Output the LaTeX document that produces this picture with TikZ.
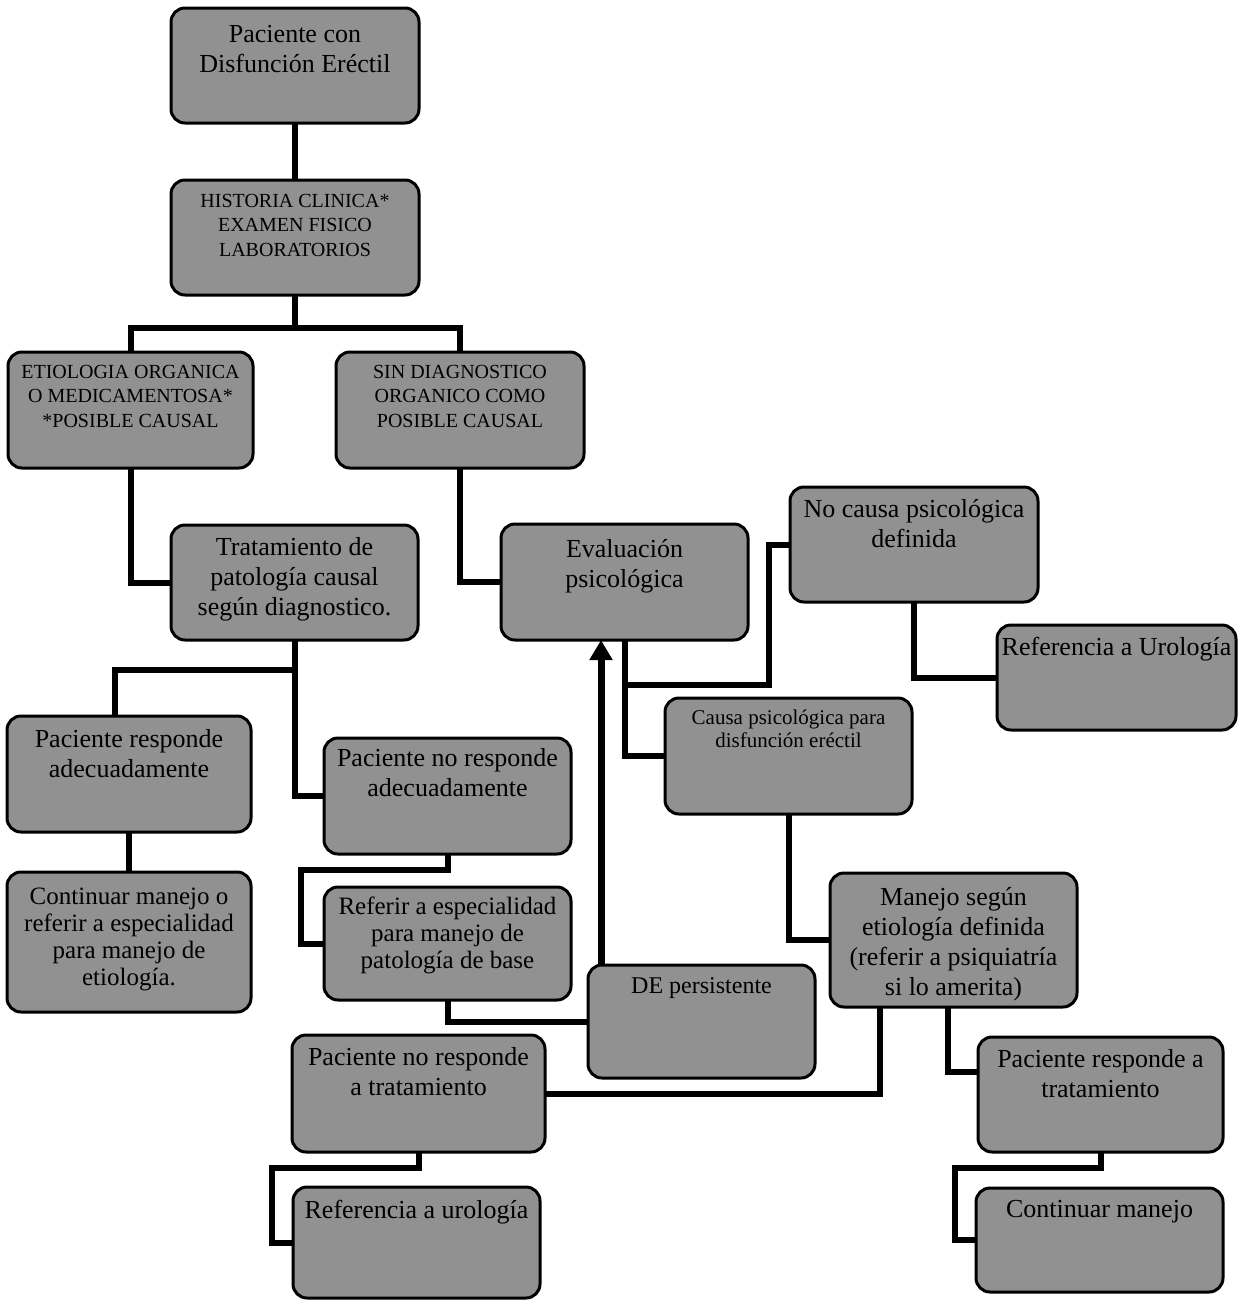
\documentclass[tikz,border=0pt]{standalone}
\usepackage{fontspec}
\setmainfont{Liberation Serif}
\usetikzlibrary{arrows.meta,backgrounds}
\definecolor{boxgray}{RGB}{145,145,145}
\newcommand\fzA{\fontsize{26}{30}\selectfont}
\newcommand\fzU{\fontsize{20}{24.5}\selectfont}
\newcommand\fzB{\fontsize{25}{27}\selectfont}
\newcommand\fzC{\fontsize{21}{23.5}\selectfont}
\newcommand\fzD{\fontsize{24}{28}\selectfont}
\tikzset{
  box/.style={draw=black, line width=3pt, rounded corners=14pt, fill=boxgray,
    inner sep=0pt, outer sep=0pt, anchor=north west},
  conn/.style={draw=black, line width=6pt},
  arr/.style={draw=black, line width=7pt, -{Triangle[length=20pt,width=22pt]}}
}
% name, x1, y1, x2, y2, font, first baseline, text
\newcommand\bx[8]{\node[box] (#1) at (#2,#3)
  {\parbox[t][\dimexpr#5pt-#3pt\relax][t]{\dimexpr#4pt-#2pt\relax}{#6\centering\rule{0pt}{#7pt}#8}};}
\begin{document}
\begin{tikzpicture}[x=1pt,y=-1pt]
\useasboundingbox (0,0) rectangle (1238,1302);
\bx{b1}{171}{8}{419}{123}{\fzA}{34}{Paciente con\\Disfunción Eréctil}
\bx{b2}{171}{180}{419}{295}{\fzU}{27}{HISTORIA CLINICA*\\EXAMEN FISICO\\LABORATORIOS}
\bx{b3}{8}{352}{253}{468}{\fzU}{26}{ETIOLOGIA ORGANICA\\O MEDICAMENTOSA*\\{}*POSIBLE CAUSAL}
\bx{b4}{336}{352}{584}{468}{\fzU}{26}{SIN DIAGNOSTICO\\ORGANICO COMO\\POSIBLE CAUSAL}
\bx{b5}{171}{525}{418}{640}{\fzA}{30}{Tratamiento de\\patología causal\\según diagnostico.}
\bx{b6}{501}{524}{748}{640}{\fzA}{33}{Evaluación\\psicológica}
\bx{b7}{7}{716}{251}{832}{\fzA}{31}{Paciente responde\\adecuadamente}
\bx{b8}{324}{738}{571}{854}{\fzA}{28}{Paciente no responde\\adecuadamente}
\bx{b9}{7}{872}{251}{1012}{\fzB}{32}{Continuar manejo o\\referir a especialidad\\para manejo de\\etiología.}
\bx{b10}{324}{887}{571}{1000}{\fzB}{27}{Referir a especialidad\\para manejo de\\patología de base}
\bx{b11}{588}{965}{815}{1078}{\fzD}{28}{DE persistente}
\bx{b12}{790}{487}{1038}{602}{\fzA}{30}{No causa psicológica\\definida}
\bx{b13}{665}{698}{912}{814}{\fzC}{26}{Causa psicológica para\\disfunción eréctil}
\bx{b14}{997}{625}{1236}{730}{\fzA}{30}{Referencia a Urología}
\bx{b15}{830}{873}{1077}{1007}{\fzA}{32}{Manejo según\\etiología definida\\(referir a psiquiatría\\si lo amerita)}
\bx{b16}{292}{1035}{545}{1152}{\fzA}{30}{Paciente no responde\\a tratamiento}
\bx{b17}{978}{1037}{1223}{1152}{\fzA}{30}{Paciente responde a\\tratamiento}
\bx{b18}{293}{1187}{540}{1298}{\fzA}{31}{Referencia a urología}
\bx{b19}{976}{1188}{1223}{1292}{\fzA}{29}{Continuar manejo}
\begin{scope}[on background layer]
\draw[conn] (b1.south) -- (b2.north);
\draw[conn] (b2.south) -- ++(0,33) coordinate (j1);
\draw[conn] (j1) -| (b3.north);
\draw[conn] (j1) -| (b4.north);
\draw[conn] (b3.south) |- (b5.west);
\draw[conn] (b4.south) |- (b6.west);
\draw[conn] (b5.south) -- ++(0,30) -| ([xshift=-14pt]b7.north);
\draw[conn] (b5.south) |- (b8.west);
\draw[conn] (b7.south) -- (b9.north);
\draw[conn] (b8.south) -- ++(0,16) -| ([xshift=-23pt]b10.west) -- (b10.west);
\draw[conn] (b10.south) |- (b11.west);
\draw[arr] ([xshift=13pt]b11.north west) -- ([xshift=13pt]b11.north west |- b6.south);
\draw[conn] (b6.south) -- ++(0,45) -| ([xshift=-21pt]b12.west) -- (b12.west);
\draw[conn] (b6.south) |- (b13.west);
\draw[conn] (b12.south) |- (b14.west);
\draw[conn] (b13.south) |- (b15.west);
\draw[conn] ([xshift=50pt]b15.south west) |- (b16.east);
\draw[conn] ([xshift=118pt]b15.south west) |- ([yshift=-35pt]b17.north west);
\draw[conn] (b16.south) -- ++(0,16) -| ([xshift=-21pt]b18.west) -- (b18.west);
\draw[conn] (b17.south) -- ++(0,16) -| ([xshift=-21pt]b19.west) -- (b19.west);
\end{scope}
\end{tikzpicture}
\end{document}
